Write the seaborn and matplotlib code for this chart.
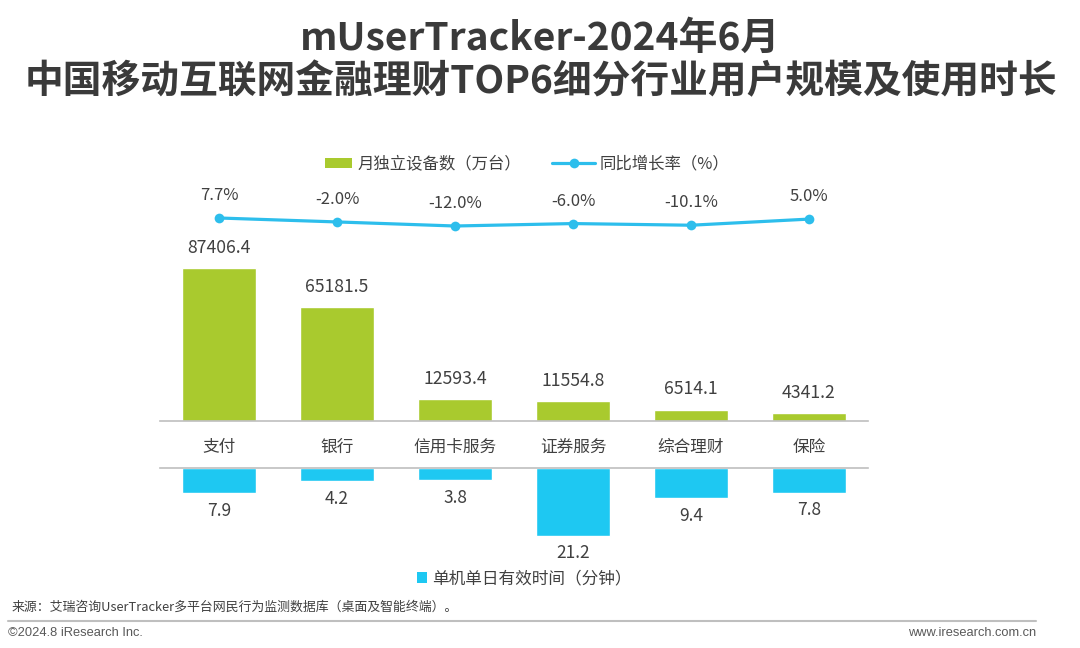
import matplotlib
matplotlib.use("Agg")
import matplotlib.pyplot as plt
import seaborn as sns
import pandas as pd
from matplotlib.patches import Patch
from matplotlib.lines import Line2D

categories = ["支付", "银行", "信用卡服务", "证券服务", "综合理财", "保险"]
devices = [87406.4, 65181.5, 12593.4, 11554.8, 6514.1, 4341.2]
growth = [7.7, -2.0, -12.0, -6.0, -10.1, 5.0]
minutes = [7.9, 4.2, 3.8, 21.2, 9.4, 7.8]

title1 = "mUserTracker-2024年6月"
title2 = "中国移动互联网金融理财TOP6细分行业用户规模及使用时长"
legend_dev = "月独立设备数（万台）"
legend_growth = "同比增长率（%）"
legend_min = "单机单日有效时间（分钟）"
source = "来源：艾瑞咨询UserTracker多平台网民行为监测数据库（桌面及智能终端）。"
footer_l = "©2024.8 iResearch Inc."
footer_r = "www.iresearch.com.cn"

GREEN = "#A9CA2E"
BLUE = "#1EC8F2"
LINE = "#2DBEEC"
TXT = "#404040"

sns.set_theme(style="white")
plt.rcParams["font.family"] = ["Noto Sans CJK SC", "DejaVu Sans"]

df = pd.DataFrame({"cat": categories, "dev": devices, "g": growth, "m": minutes})

W, H = 1080, 648
fig = plt.figure(figsize=(10.8, 6.48), dpi=100)

def rect(x0, y0, x1, y1):
    return [x0 / W, 1 - y1 / H, (x1 - x0) / W, (y1 - y0) / H]

# top panel
top_y0, top_y1 = 150, 421
ax = fig.add_axes(rect(160, top_y0, 868, top_y1))
sns.barplot(data=df, x="cat", y="dev", color=GREEN, width=0.63, saturation=1, ax=ax)
ax.set_ylim(0, devices[0] * (top_y1 - top_y0) / 153.0)
ax.set_xlim(-0.5, 5.5)
for s in ["top", "right", "left"]:
    ax.spines[s].set_visible(False)
ax.spines["bottom"].set_color("#BFBFBF")
ax.spines["bottom"].set_linewidth(1.2)
ax.set_yticks([])
ax.set_xlabel("")
ax.set_ylabel("")
ax.tick_params(axis="x", length=0, pad=13, labelsize=12, labelcolor=TXT)
for i, v in enumerate(devices):
    ax.annotate(f"{v:.1f}", (i, v), xytext=(0, 8), textcoords="offset points",
                ha="center", va="bottom", fontsize=12.7, color=TXT)

ax2 = ax.twinx()
sns.lineplot(data=df, x="cat", y="g", color=LINE, linewidth=2.3, marker="o",
             markersize=7, markeredgewidth=0, sort=False, ax=ax2)
ppp = 0.406
lo = growth[0] - (top_y1 - 218) / ppp
ax2.set_ylim(lo, lo + (top_y1 - top_y0) / ppp)
ax2.set_xlim(-0.5, 5.5)
ax2.set_yticks([])
ax2.set_ylabel("")
for s in ["top", "right", "left", "bottom"]:
    ax2.spines[s].set_visible(False)
for i, v in enumerate(growth):
    ax2.annotate(f"{v:.1f}%", (i, v), xytext=(0, 10), textcoords="offset points",
                 ha="center", va="bottom", fontsize=12, color=TXT)

# bottom panel
bot_y0, bot_y1 = 468, 560
axb = fig.add_axes(rect(160, bot_y0, 868, bot_y1))
sns.barplot(data=df, x="cat", y="m", color=BLUE, width=0.63, saturation=1, ax=axb)
axb.set_ylim((bot_y1 - bot_y0) / 3.21, 0)
axb.set_xlim(-0.5, 5.5)
for s in ["bottom", "right", "left"]:
    axb.spines[s].set_visible(False)
axb.spines["top"].set_color("#BFBFBF")
axb.spines["top"].set_linewidth(1.2)
axb.set_xticks([])
axb.set_yticks([])
axb.set_xlabel("")
axb.set_ylabel("")
for i, v in enumerate(minutes):
    axb.annotate(f"{v:.1f}", (i, v), xytext=(0, -6), textcoords="offset points",
                 ha="center", va="top", fontsize=12.5, color=TXT)

# legends
h1 = Patch(facecolor=GREEN, edgecolor="none")
fig.legend([h1], [legend_dev], loc="center",
           bbox_to_anchor=(423 / W, 1 - 164 / H), frameon=False,
           fontsize=11.8, labelcolor=TXT, handlelength=1.65, handleheight=0.6,
           handletextpad=0.35)
h2 = Line2D([0], [0], color=LINE, linewidth=2.3, marker="o", markersize=7, markeredgewidth=0)
fig.legend([h2], [legend_growth], loc="center",
           bbox_to_anchor=(641 / W, 1 - 164 / H), frameon=False,
           fontsize=11.8, labelcolor=TXT, handlelength=2.6,
           handletextpad=0.3)
h3 = Patch(facecolor=BLUE, edgecolor="none")
fig.legend([h3], [legend_min], loc="center", bbox_to_anchor=(524 / W, 1 - 579 / H),
           frameon=False, fontsize=12, labelcolor=TXT, handlelength=0.6,
           handleheight=0.6, handletextpad=0.3)

# titles
fig.text(540 / W, 1 - 38 / H, title1, ha="center", va="center", fontsize=28,
         fontweight="bold", color="#3A3A3A")
fig.text(541 / W, 1 - 82 / H, title2, ha="center", va="center", fontsize=27.9,
         fontweight="bold", color="#3A3A3A")

# source and footer
fig.text(12 / W, 1 - 607 / H, source, ha="left", va="center", fontsize=9.3, color=TXT)
fig.add_artist(Line2D([8 / W, 1036 / W], [1 - 621 / H, 1 - 621 / H], color="#BFBFBF",
                      linewidth=1.5))
fig.text(8 / W, 1 - 633 / H, footer_l, ha="left", va="center", fontsize=9.3,
         color="#595959", family=["Liberation Sans", "DejaVu Sans"])
fig.text(1036 / W, 1 - 633 / H, footer_r, ha="right", va="center", fontsize=9.3,
         color="#595959", family=["Liberation Sans", "DejaVu Sans"])

fig.savefig("out.png", dpi=100)
